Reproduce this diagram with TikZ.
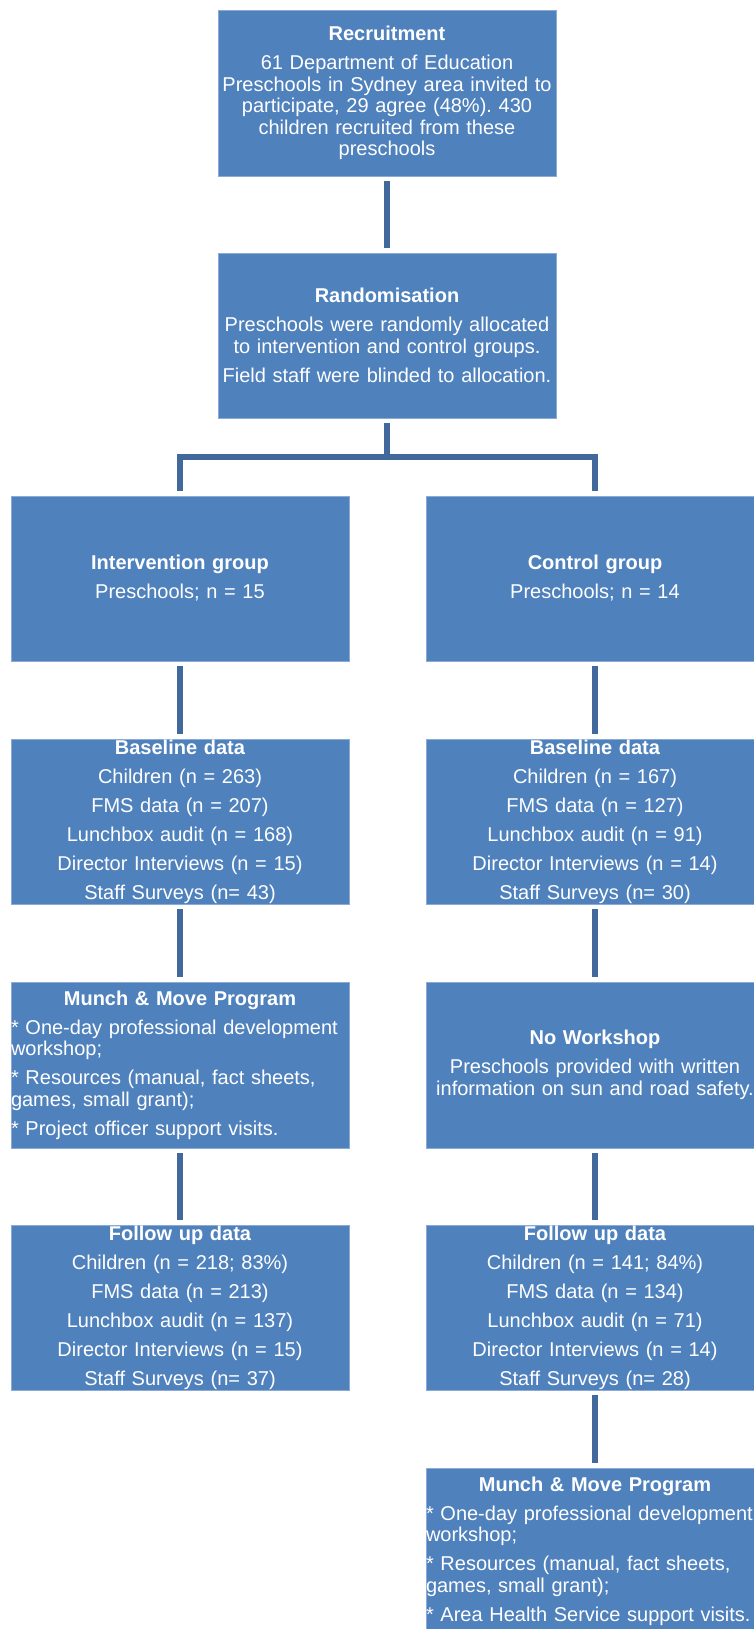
\documentclass[tikz,border=0pt]{standalone}
\usepackage{fontspec}
\setmainfont{Liberation Sans}
\frenchspacing
\definecolor{boxfill}{HTML}{4F81BD}
\definecolor{boxedge}{HTML}{8CAAD6}
\definecolor{connc}{HTML}{41699C}
\tikzset{
  box/.style={rectangle, fill=boxfill, draw=boxedge, line width=0.6pt, text=white,
    text width=338pt, minimum height=166pt, inner xsep=0pt, inner ysep=0pt,
    align=center, font=\fontsize{20}{21.6}\selectfont},
  leftbox/.style={box, align=left},
  conn/.style={draw=connc, line width=6pt, shorten <=5pt, shorten >=5pt}
}
\newcommand{\gap}{\\[7.4pt]}
\begin{document}
\begin{tikzpicture}[x=1pt,y=-1pt]
\useasboundingbox[fill=white] (0,0) rectangle (753,1629);
\node[box] (recruit) at (387,93) {\textbf{Recruitment}\gap 61 Department of Education\\ Preschools in Sydney area invited to\\ participate, 29 agree (48\%). 430\\ children recruited from these\\ preschools};
\node[box, minimum height=165pt] (random) at (387,335.5) {\textbf{Randomisation}\gap Preschools were randomly allocated\\ to intervention and control groups.\gap Field staff were blinded to allocation.};
\node[box, minimum height=165pt] (interv) at (180,578.5) {\textbf{Intervention group}\gap Preschools; n = 15};
\node[box, minimum height=165pt] (control) at (595,578.5) {\textbf{Control group}\gap Preschools; n = 14};
\node[box, minimum height=165pt] (baseL) at (180,821.5) {\textbf{Baseline data}\gap Children (n = 263)\gap FMS data (n = 207)\gap Lunchbox audit (n = 168)\gap Director Interviews (n = 15)\gap Staff Surveys (n= 43)};
\node[box, minimum height=165pt] (baseR) at (595,821.5) {\textbf{Baseline data}\gap Children (n = 167)\gap FMS data (n = 127)\gap Lunchbox audit (n = 91)\gap Director Interviews (n = 14)\gap Staff Surveys (n= 30)};
\node[leftbox] (munchL) at (180,1065) {\makebox[338pt][c]{\textbf{Munch \& Move Program}}\gap * One-day professional development\\ workshop;\gap * Resources (manual, fact sheets,\\ games, small grant);\gap * Project officer support visits.};
\node[box] (nowork) at (595,1065) {\textbf{No Workshop}\gap Preschools provided with written\\ information on sun and road safety.};
\node[box, minimum height=165pt] (followL) at (180,1307.5) {\textbf{Follow up data}\gap Children (n = 218; 83\%)\gap FMS data (n = 213)\gap Lunchbox audit (n = 137)\gap Director Interviews (n = 15)\gap Staff Surveys (n= 37)};
\node[box, minimum height=165pt] (followR) at (595,1307.5) {\textbf{Follow up data}\gap Children (n = 141; 84\%)\gap FMS data (n = 134)\gap Lunchbox audit (n = 71)\gap Director Interviews (n = 14)\gap Staff Surveys (n= 28)};
\node[leftbox] (munchR) at (595,1551) {\makebox[338pt][c]{\textbf{Munch \& Move Program}}\gap * One-day professional development\\ workshop;\gap * Resources (manual, fact sheets,\\ games, small grant);\gap * Area Health Service support visits.};
\coordinate (split) at (387,457);
\draw[conn] (recruit) -- (random);
\draw[conn, shorten >=0pt] (random) -- (split);
\draw[conn] (interv.north) |- (split) -| (control.north);
\draw[conn] (interv) -- (baseL);
\draw[conn] (control) -- (baseR);
\draw[conn] (baseL) -- (munchL);
\draw[conn] (baseR) -- (nowork);
\draw[conn] (munchL) -- (followL);
\draw[conn] (nowork) -- (followR);
\draw[conn] (followR) -- (munchR);
\end{tikzpicture}
\end{document}
